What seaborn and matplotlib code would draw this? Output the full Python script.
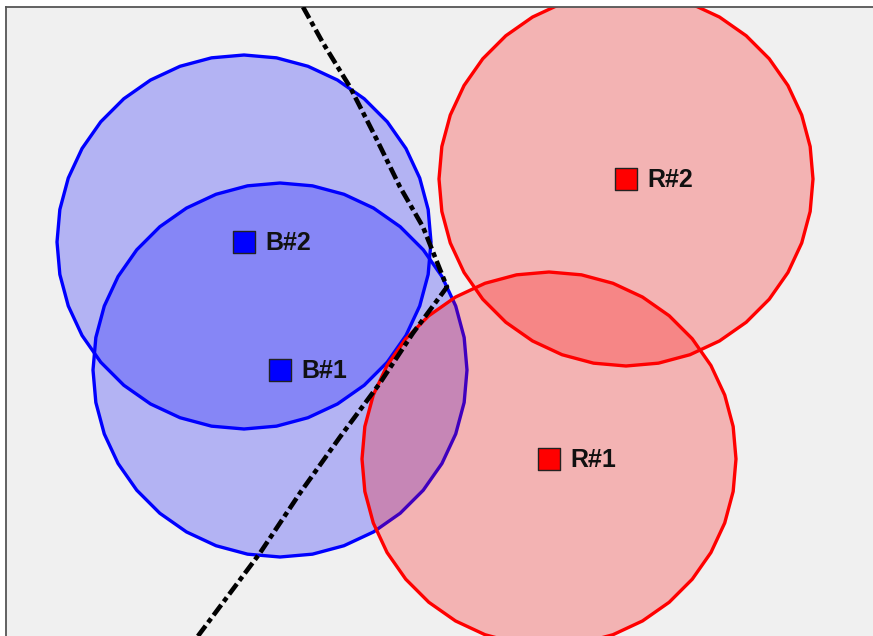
import numpy as np
import matplotlib
matplotlib.use("Agg")
import matplotlib.pyplot as plt
import seaborn as sns
from matplotlib.patches import Polygon

# ==========================================
# Data (pixel-like coordinates, y grows downward)
# ==========================================

labels = ["B#2", "B#1", "R#2", "R#1"]
center_x = [244, 280, 626, 549]
center_y = [242, 370, 179, 459]
groups = ["blue", "blue", "red", "red"]
radius = 187

# decision boundary
boundary_x = [303, 323, 350, 377, 400, 423, 447, 413, 380, 340, 300, 260, 195]
boundary_y = [7, 43, 87, 140, 187, 227, 287, 333, 383, 437, 493, 553, 640]

# ==========================================
# Figure
# ==========================================

sns.set_style("white")
plt.rcParams["font.family"] = ["Liberation Sans", "DejaVu Sans"]

W, H = 873, 636
fig = plt.figure(figsize=(W / 100, H / 100), dpi=100)
fig.patch.set_facecolor("white")

left, top = 6, 7
extra = 0.2
ax = fig.add_axes([left / W, -extra, 1.0, (1 - top / H) + extra])
ax.set_facecolor("#f0f0f0")
ax.set_xticks([])
ax.set_yticks([])
for side in ["right", "bottom"]:
    ax.spines[side].set_visible(False)
for side in ["left", "top"]:
    ax.spines[side].set_color("#555555")
    ax.spines[side].set_linewidth(1.3)

colors = {"blue": (0, 0, 1), "red": (1, 0, 0)}

# circles as polygons
n_sides = 36
theta = np.pi / 2 + np.linspace(0, 2 * np.pi, n_sides, endpoint=False)
for cx, cy, g in zip(center_x, center_y, groups):
    pts = np.column_stack([cx + radius * np.cos(theta), cy + radius * np.sin(theta)])
    c = colors[g]
    ax.add_patch(Polygon(pts, closed=True, facecolor=(*c, 0.25),
                         edgecolor=(*c, 1.0), linewidth=2.4, zorder=2))

# decision boundary
sns.lineplot(x=boundary_x, y=boundary_y, sort=False, estimator=None,
             color="black", linewidth=3.3, ax=ax, zorder=3)
ax.lines[-1].set_dashes([2.8, 0.9, 1.1, 0.9])
ax.lines[-1].set_dash_capstyle("butt")

# centers
sns.scatterplot(x=center_x, y=center_y, hue=groups, palette=colors,
                marker="s", s=235, edgecolor="#222222", linewidth=1,
                legend=False, ax=ax, zorder=4)

for cx, cy, lab in zip(center_x, center_y, labels):
    ax.text(cx + 21, cy + 1, lab, va="center", ha="left", fontsize=18,
            fontweight="bold", color="#111111", zorder=5)

ax.set_xlim(left, left + W)
ax.set_ylim((1 + extra) * H, top)

fig.savefig("out.png", dpi=100)
